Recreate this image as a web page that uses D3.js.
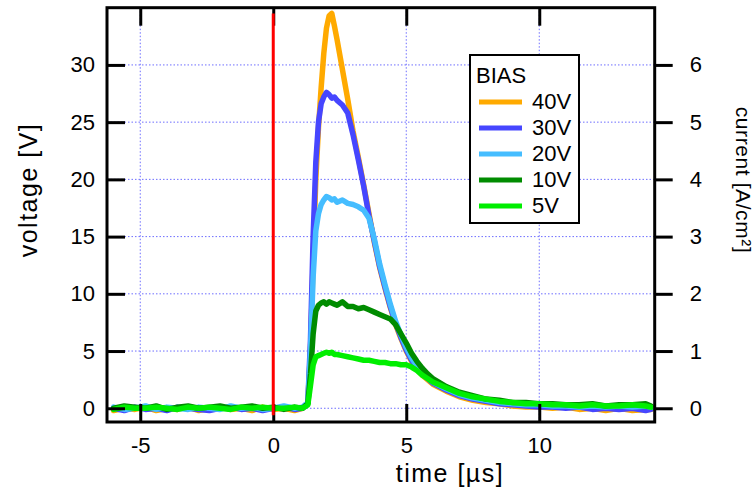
<!DOCTYPE html>
<html>
<head>
<meta charset="utf-8">
<script src="https://cdn.jsdelivr.net/npm/d3@7"></script>
<style>
  body { margin: 0; background: #fff; }
  svg { display: block; font-family: "Liberation Sans", Arial, sans-serif; }
</style>
</head>
<body>
<svg id="chart" width="756" height="491"></svg>
<script>
// time base [µs], shared by all bias traces
var time = [-6.0, -5.6, -5.2, -4.8, -4.4, -4.0, -3.6, -3.2, -2.8, -2.4, -2.0, -1.6, -1.2, -0.8, -0.4, 0.0, 0.4, 0.8, 1.1,
  1.3, 1.4, 1.5, 1.6, 1.7, 1.8, 1.9, 2.0, 2.1, 2.2, 2.3, 2.4,
  2.6, 2.8, 3.0, 3.2, 3.4, 3.6, 3.8, 4.0, 4.2, 4.4, 4.6, 4.8, 5.0, 5.2, 5.4, 5.6, 5.8, 6.0,
  6.5, 7.0, 7.5, 8.0, 8.5, 9.0, 9.5, 10.0, 10.5, 11.0, 11.5, 12.0, 12.5, 13.0, 13.5, 14.0, 14.2];

// voltage [V] per bias
var v40 = [-0.2, 0.0, -0.1, 0.1, -0.2, 0.0, -0.1, 0.1, -0.2, 0.0, 0.1, -0.1, 0.0, -0.2, 0.1, -0.1, 0.0, -0.2, 0.0,
  0.5, 5, 13, 20, 24.5, 28, 31, 33.2, 34.3, 34.5, 33.4, 32.2,
  29.6, 27.0, 24.2, 21.9, 19.5, 17.0, 14.5, 12.3, 10.5, 8.8, 7.3, 6.1, 5.0, 4.1, 3.4, 2.9, 2.5, 2.1,
  1.5, 1.0, 0.7, 0.5, 0.4, 0.2, 0.1, 0.1, 0.0, 0.1, -0.1, 0.0, -0.2, 0.0, -0.2, -0.1, -0.1];
var v30 = [0.0, -0.2, 0.1, -0.1, 0.0, -0.2, 0.1, 0.0, -0.1, -0.2, 0.0, 0.1, -0.1, 0.0, -0.2, 0.0, 0.1, -0.1, 0.0,
  0.5, 6, 15, 21.5, 25, 26.6, 27.2, 27.6, 27.4, 27.1, 27.2, 26.9,
  26.5, 25.8, 23.9, 21.7, 19.4, 16.8, 14.6, 12.4, 10.6, 8.9, 7.4, 6.2, 5.1, 4.2, 3.5, 3.0, 2.6, 2.2,
  1.6, 1.1, 0.8, 0.6, 0.4, 0.3, 0.2, 0.1, 0.1, 0.0, 0.1, -0.1, 0.0, -0.1, 0.0, -0.2, -0.1];
var v20 = [0.1, -0.1, 0.0, 0.2, -0.1, 0.1, 0.0, -0.1, 0.1, 0.0, -0.1, 0.2, 0.0, 0.1, -0.1, 0.0, 0.2, 0.0, 0.1,
  0.5, 5, 11.5, 15.5, 17, 17.8, 18.2, 18.5, 18.4, 18.2, 18.3, 18.0,
  18.2, 17.9, 17.8, 17.6, 17.3, 16.6, 14.8, 12.6, 10.8, 9.1, 7.6, 6.4, 5.3, 4.4, 3.7, 3.2, 2.7, 2.3,
  1.7, 1.2, 0.9, 0.7, 0.5, 0.4, 0.3, 0.3, 0.2, 0.2, 0.1, 0.2, 0.1, 0.2, 0.1, 0.2, 0.1];
var v10 = [0.0, 0.2, 0.1, 0.0, 0.2, -0.1, 0.1, 0.2, 0.0, 0.1, 0.2, 0.0, 0.1, 0.2, 0.0, 0.1, -0.1, 0.1, 0.0,
  0.4, 3, 6.5, 8.5, 9.0, 9.2, 9.3, 9.1, 9.3, 9.2, 9.1, 9.0,
  9.3, 8.9, 8.9, 8.7, 8.8, 8.6, 8.4, 8.2, 8.0, 7.8, 7.3, 6.5, 5.7, 4.8, 4.1, 3.5, 3.0, 2.6,
  1.9, 1.4, 1.1, 0.8, 0.7, 0.5, 0.5, 0.4, 0.4, 0.3, 0.3, 0.4, 0.2, 0.3, 0.3, 0.4, 0.2];
var v5 = [-0.1, 0.1, 0.0, 0.0, 0.1, 0.0, -0.1, 0.1, 0.0, 0.1, 0.0, -0.1, 0.1, 0.0, 0.1, 0.0, 0.0, 0.1, 0.0,
  0.3, 2.0, 3.8, 4.5, 4.6, 4.7, 4.8, 4.9, 4.8, 4.9, 4.7, 4.7,
  4.6, 4.5, 4.4, 4.3, 4.2, 4.2, 4.1, 4.0, 4.0, 3.9, 3.9, 3.8, 3.8, 3.6, 3.3, 2.9, 2.6, 2.3,
  1.8, 1.3, 1.0, 0.8, 0.6, 0.5, 0.4, 0.4, 0.3, 0.3, 0.2, 0.3, 0.2, 0.2, 0.3, 0.2, 0.1];

var biasLabels = ["40V", "30V", "20V", "10V", "5V"];
var biasValues = [v40, v30, v20, v10, v5];
var biasColors = ["#ffaa00", "#4646ff", "#45bdff", "#008c00", "#00ee00"];

var timeTicks = [-5, 0, 5, 10];
var voltageTicks = [0, 5, 10, 15, 20, 25, 30];
var currentTicks = [0, 1, 2, 3, 4, 5, 6];
var voltsPerAmp = 5; // 1 A/cm² corresponds to 5 V
var trigger = { time: 0, from: -0.6, to: 34.5 };

var svg = d3.select("#chart");
var margin = { top: 7.7, right: 101.3, bottom: 69, left: 107 };
var width = +svg.attr("width") - margin.left - margin.right;
var height = +svg.attr("height") - margin.top - margin.bottom;
var g = svg.append("g").attr("transform", "translate(" + margin.left + "," + margin.top + ")");

var x = d3.scaleLinear().domain([-6.25, 14.34]).range([0, width]);
var y = d3.scaleLinear().domain([-1.2, 35.0]).range([height, 0]);
var yc = d3.scaleLinear().domain([-1.2 / voltsPerAmp, 35.0 / voltsPerAmp]).range([height, 0]);

// dotted grid
var grid = g.append("g").attr("stroke", "#6e6eff").attr("stroke-width", 1).attr("stroke-dasharray", "1.5,2");
grid.selectAll("line.v").data(timeTicks).enter().append("line")
  .attr("x1", function (d) { return x(d); }).attr("x2", function (d) { return x(d); })
  .attr("y1", 0).attr("y2", height);
grid.selectAll("line.h").data(voltageTicks).enter().append("line")
  .attr("x1", 0).attr("x2", width)
  .attr("y1", function (d) { return y(d); }).attr("y2", function (d) { return y(d); });

// traces
var line = d3.line()
  .x(function (d, i) { return x(time[i]); })
  .y(function (d) { return y(d); });
g.append("g").selectAll("path").data(biasValues).enter().append("path")
  .attr("d", line)
  .attr("fill", "none")
  .attr("stroke", function (d, i) { return biasColors[i]; })
  .attr("stroke-width", 5.5)
  .attr("stroke-linejoin", "round")
  .attr("stroke-linecap", "round");

// axes
function styleAxis(sel) {
  sel.select(".domain").remove();
  sel.selectAll(".tick line").attr("stroke", "#000").attr("stroke-width", 3);
  sel.selectAll(".tick text").attr("fill", "#000").attr("font-size", 22);
}
var fmt = function (d) { return String(d); };
g.append("g").attr("transform", "translate(0," + height + ")")
  .call(d3.axisBottom(x).tickValues(timeTicks).tickSize(-18).tickPadding(15).tickFormat(fmt))
  .call(styleAxis);
g.append("g")
  .call(d3.axisTop(x).tickValues(timeTicks).tickSize(-18).tickFormat(""))
  .call(styleAxis);
g.append("g")
  .call(d3.axisLeft(y).tickValues(voltageTicks).tickSize(-18).tickPadding(12).tickFormat(fmt))
  .call(styleAxis);
g.append("g").attr("transform", "translate(" + width + ",0)")
  .call(d3.axisRight(yc).tickValues(currentTicks).tickSize(18).tickPadding(17).tickFormat(fmt))
  .call(styleAxis);

// trigger marker at t = 0
g.append("line")
  .attr("x1", x(trigger.time)).attr("x2", x(trigger.time))
  .attr("y1", y(trigger.from)).attr("y2", y(trigger.to))
  .attr("stroke", "#ff0000").attr("stroke-width", 3);

// frame
g.append("rect")
  .attr("width", width).attr("height", height)
  .attr("fill", "none").attr("stroke", "#000").attr("stroke-width", 3);

// axis titles
svg.append("text")
  .attr("transform", "translate(37,190) rotate(-90)")
  .attr("text-anchor", "middle").attr("font-size", 25).attr("letter-spacing", 1.5)
  .text("voltage [V]");
svg.append("text")
  .attr("x", 450).attr("y", 482)
  .attr("text-anchor", "middle").attr("font-size", 25).attr("letter-spacing", 1.5)
  .text("time [µs]");
svg.append("text")
  .attr("transform", "translate(736,180) rotate(90)")
  .attr("text-anchor", "middle").attr("font-size", 21).attr("letter-spacing", 0.6)
  .text("current [A/cm²]");

// legend
var legend = svg.append("g").attr("transform", "translate(470,55)");
legend.append("rect")
  .attr("width", 109).attr("height", 168)
  .attr("fill", "#fff").attr("stroke", "#000").attr("stroke-width", 2);
legend.append("text").attr("x", 6).attr("y", 27.5).attr("font-size", 22).text("BIAS");
var item = legend.selectAll("g.item").data(biasLabels).enter().append("g")
  .attr("transform", function (d, i) { return "translate(0," + (47 + i * 26) + ")"; });
item.append("line")
  .attr("x1", 9).attr("x2", 52)
  .attr("stroke", function (d, i) { return biasColors[i]; })
  .attr("stroke-width", 5);
item.append("text")
  .attr("x", 62).attr("y", 7).attr("font-size", 22)
  .text(function (d) { return d; });
</script>
</body>
</html>
